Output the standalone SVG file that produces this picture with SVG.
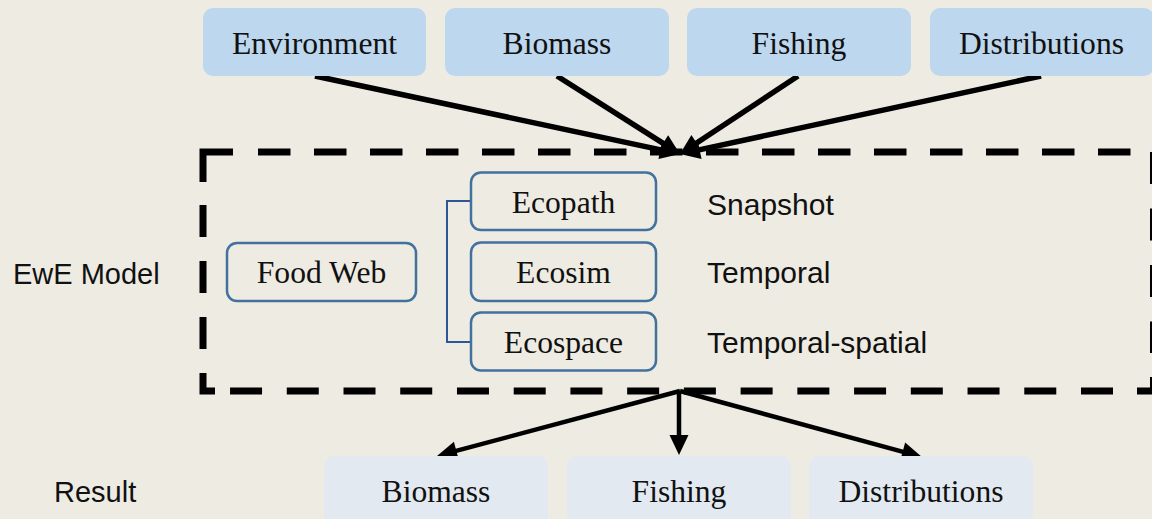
<svg xmlns="http://www.w3.org/2000/svg" width="1152" height="519" viewBox="0 0 1152 519">
<style>
.bg{fill:#EEEBE3}
.top{fill:#BDD7EE}
.bot{fill:#E2E9F0}
.inner{fill:none;stroke:#41719C;stroke-width:2.5}
.serif{font-family:"Liberation Serif","Times New Roman",serif;font-size:31.6px;fill:#111;text-anchor:middle}
.sans{font-family:"Liberation Sans",Arial,sans-serif;font-size:30px;fill:#111}
.lbl{font-family:"Liberation Sans",Arial,sans-serif;font-size:29px;fill:#111}
.dash{fill:none;stroke:#000;stroke-width:7;stroke-linecap:butt;stroke-linejoin:miter}
.arr{stroke:#000;stroke-width:5.5;fill:none}
.arr2{stroke:#000;stroke-width:4.5;fill:none}
</style>
<defs>
<marker id="ah" markerUnits="userSpaceOnUse" markerWidth="21" markerHeight="20" refX="10" refY="9.5" orient="auto" overflow="visible">
<path d="M0,0 L20,9.5 L0,19 Z" fill="#000"/>
</marker>
</defs>
<rect class="bg" x="0" y="0" width="1152" height="519"/>

<g id="model-frame">
<path class="dash" d="M203,182 L203,152 L233,152"/>
<path class="dash" d="M258,152 L1131,152" stroke-dasharray="32.5 23.5"/>
<path class="dash" d="M1153.5,152 L1153.5,353" stroke-dasharray="32 24.5"/>
<path class="dash" d="M1137,391 L1153.5,391 L1153.5,377"/>
<path class="dash" d="M1113,391 L230,391" stroke-dasharray="32 24.73"/>
<path class="dash" d="M215,391 L203,391 L203,373"/>
<path class="dash" d="M203,205 L203,349" stroke-dasharray="32 24"/>
</g>

<g id="connectors">
<line class="arr" x1="315" y1="76" x2="670.2" y2="151.9" marker-end="url(#ah)"/>
<line class="arr" x1="557" y1="76" x2="671.5" y2="148.6" marker-end="url(#ah)"/>
<line class="arr" x1="798" y1="76" x2="688.3" y2="148.5" marker-end="url(#ah)"/>
<line class="arr" x1="1041" y1="76" x2="689.8" y2="151.9" marker-end="url(#ah)"/>
<line class="arr2" x1="680" y1="391" x2="446.7" y2="453.4" marker-end="url(#ah)"/>
<line class="arr2" x1="679" y1="391" x2="679" y2="445" marker-end="url(#ah)"/>
<line class="arr2" x1="680" y1="391" x2="912.3" y2="454.4" marker-end="url(#ah)"/>
<path d="M471,201 L447,201 L447,342 L471,342" fill="none" stroke="#2F5597" stroke-width="2"/>
</g>

<g id="in-environment">
<rect class="top" x="203" y="8" width="223" height="68" rx="10"/>
<text class="serif" x="314.5" y="54">Environment</text>
</g>
<g id="in-biomass">
<rect class="top" x="445" y="8" width="224" height="68" rx="10"/>
<text class="serif" x="557" y="54">Biomass</text>
</g>
<g id="in-fishing">
<rect class="top" x="687" y="8" width="224" height="68" rx="10"/>
<text class="serif" x="799" y="54">Fishing</text>
</g>
<g id="in-distributions">
<rect class="top" x="930" y="8" width="224" height="68" rx="10"/>
<text class="serif" x="1041.5" y="54">Distributions</text>
</g>

<g id="label-ewe">
<text class="lbl" x="13" y="284">EwE Model</text>
</g>
<g id="food-web">
<rect class="inner" x="227" y="243" width="189" height="58" rx="10"/>
<text class="serif" x="321.5" y="283">Food Web</text>
</g>
<g id="ecopath">
<rect class="inner" x="471" y="172.5" width="185" height="57.5" rx="10"/>
<text class="serif" x="563.5" y="213">Ecopath</text>
</g>
<g id="ecosim">
<rect class="inner" x="471" y="242.5" width="185" height="58.5" rx="10"/>
<text class="serif" x="563.5" y="283">Ecosim</text>
</g>
<g id="ecospace">
<rect class="inner" x="471" y="312.5" width="185" height="58" rx="10"/>
<text class="serif" x="563.5" y="353">Ecospace</text>
</g>
<g id="desc-snapshot"><text class="sans" x="707" y="215">Snapshot</text></g>
<g id="desc-temporal"><text class="sans" x="707" y="283">Temporal</text></g>
<g id="desc-temporal-spatial"><text class="sans" x="707" y="353">Temporal-spatial</text></g>

<g id="label-result">
<text class="lbl" x="54" y="502">Result</text>
</g>
<g id="out-biomass">
<rect class="bot" x="324" y="456" width="224" height="70" rx="10"/>
<text class="serif" x="436" y="502">Biomass</text>
</g>
<g id="out-fishing">
<rect class="bot" x="567" y="456" width="224" height="70" rx="10"/>
<text class="serif" x="679" y="502">Fishing</text>
</g>
<g id="out-distributions">
<rect class="bot" x="809" y="456" width="224" height="70" rx="10"/>
<text class="serif" x="921" y="502">Distributions</text>
</g>
</svg>
